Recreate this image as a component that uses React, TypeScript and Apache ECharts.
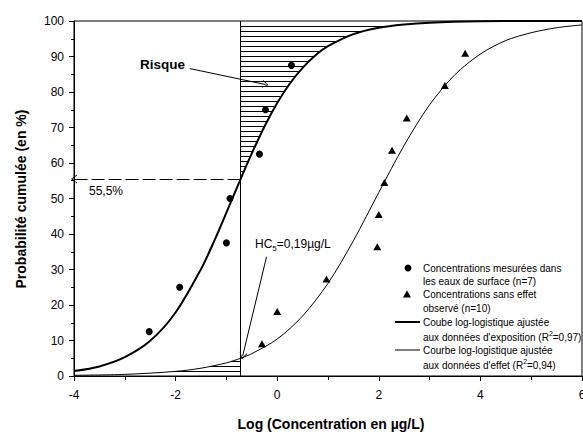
import React, { useEffect, useRef } from "react";
import * as echarts from "echarts";

// ---- data ----
const xTickLabels = ["-4", "-2", "0", "2", "4", "6"];
const exposureX = [-4, -3.5, -3, -2.5, -2, -1.5, -1.25, -1, -0.75, -0.5, -0.25, 0, 0.25, 0.5, 0.75, 1, 1.5, 2, 2.5, 3, 4, 5, 6];
const exposureY = [1.4, 2.7, 5.3, 9.9, 17.9, 30.1, 37.7, 46.0, 54.5, 62.7, 70.3, 76.9, 82.4, 86.8, 90.3, 92.9, 96.3, 98.1, 99.0, 99.5, 99.9, 100, 100];
const effectX = [-4, -3, -2, -1.5, -1, -0.72, -0.5, 0, 0.5, 1, 1.5, 2, 2.5, 3, 3.5, 4, 4.5, 5, 5.5, 6];
const effectY = [0.2, 0.45, 1.3, 2.2, 3.7, 5.0, 6.3, 10.4, 16.9, 26.1, 38.1, 51.7, 65.0, 76.4, 84.9, 90.7, 94.5, 96.7, 98.1, 98.9];
const measuredX = [-2.52, -1.92, -1.0, -0.93, -0.35, -0.23, 0.28];
const measuredY = [12.5, 25, 37.5, 50, 62.5, 75, 87.5];
const noEffectX = [-0.3, 0.0, 0.97, 1.97, 2.0, 2.11, 2.26, 2.55, 3.3, 3.7];
const noEffectY = [9.1, 18.2, 27.3, 36.4, 45.5, 54.5, 63.6, 72.7, 81.8, 90.9];
const hc5Log = -0.72;
const riskLevel = 55.5;
const hc5EffectLevel = 5.0;
const hatchLines = 71;
const riskArrow = [[-1.72, 86.6], [-0.23, 82.1]];
const hc5Arrow = [[-0.21, 33.6], [-0.68, 5.6]];

const FONT = '"Liberation Sans", Arial, Helvetica, sans-serif';
const ARROW = "path://M50,0 L100,100 L88,100 L50,22 L12,100 L0,100 Z";

function crossX(pts: number[][], py: number): number | null {
  for (let i = 0; i < pts.length - 1; i++) {
    const a = pts[i];
    const b = pts[i + 1];
    if ((a[1] - py) * (b[1] - py) <= 0 && a[1] !== b[1]) {
      return a[0] + ((py - a[1]) * (b[0] - a[0])) / (b[1] - a[1]);
    }
  }
  return null;
}

export default function App() {
  const ref = useRef<HTMLDivElement>(null);
  useEffect(() => {
    const chart = echarts.init(ref.current!, null, { renderer: "svg" });

    const hatchRender = (params: any, api: any) => {
      const expPx = exposureX.map((x, i) => api.coord([x, exposureY[i]]));
      const effPx = effectX.map((x, i) => api.coord([x, effectY[i]]));
      const children: any[] = [];
      const vx = api.coord([hc5Log, 0])[0];
      for (let k = 1; k < hatchLines; k++) {
        const level = (k * 100) / hatchLines;
        const py = Math.floor(api.coord([0, level])[1]) + 0.5;
        if (level > riskLevel) {
          const x1 = crossX(expPx, py);
          if (x1 !== null && x1 > vx) {
            children.push({ type: "line", shape: { x1: vx, y1: py, x2: x1, y2: py }, style: { stroke: "#000", lineWidth: 1 } });
          }
        }
        if (level < hc5EffectLevel) {
          const x0 = crossX(effPx, py);
          if (x0 !== null && x0 < vx) {
            children.push({ type: "line", shape: { x1: x0, y1: py, x2: vx, y2: py }, style: { stroke: "#000", lineWidth: 1 } });
          }
        }
      }
      return { type: "group", children };
    };

    const txt = (text: string, x: number, y: number, extra: any = {}) => ({
      type: "text",
      x,
      y,
      silent: true,
      style: {
        text,
        fill: "#000",
        fontFamily: FONT,
        fontSize: 10,
        align: "left",
        verticalAlign: "middle",
        textAlign: "left",
        textVerticalAlign: "middle",
        ...extra,
      },
    });

    const supRich = {
      t: { fontSize: 10, fontFamily: FONT, color: "#000", lineHeight: 14 },
      s: { fontSize: 7, fontFamily: FONT, color: "#000", verticalAlign: "top", lineHeight: 8 },
    };

    const option: any = {
      animation: false,
      backgroundColor: "#fff",
      grid: { left: 74, right: 1, top: 21, bottom: 56, show: true, borderColor: "#000", borderWidth: 1, containLabel: false, outerBoundsMode: "none" },
      xAxis: {
        type: "value",
        min: -4,
        max: 6,
        interval: 2,
        axisLine: { show: true, onZero: false, lineStyle: { color: "#000", width: 1 } },
        axisTick: { show: true, length: 5, lineStyle: { color: "#000" } },
        minorTick: { show: true, splitNumber: 2, length: 4, lineStyle: { color: "#000" } },
        splitLine: { show: false },
        axisLabel: {
          color: "#000",
          fontSize: 12,
          fontFamily: FONT,
          margin: 13,
          formatter: (v: number) => xTickLabels[Math.round((v + 4) / 2)] ?? String(v),
        },
      },
      yAxis: {
        type: "value",
        min: 0,
        max: 100,
        interval: 10,
        axisLine: { show: true, onZero: false, lineStyle: { color: "#000", width: 1 } },
        axisTick: { show: true, length: 5, lineStyle: { color: "#000" } },
        minorTick: { show: true, splitNumber: 2, length: 3, lineStyle: { color: "#000" } },
        splitLine: { show: false },
        axisLabel: { color: "#000", fontSize: 12, fontFamily: FONT, margin: 10 },
      },
      series: [
        {
          type: "custom",
          coordinateSystem: "cartesian2d",
          renderItem: hatchRender,
          data: [[0, 0]],
          silent: true,
          z: 1,
        },
        {
          name: "exposure",
          type: "line",
          data: exposureX.map((x, i) => [x, exposureY[i]]),
          smooth: 0.3,
          showSymbol: false,
          lineStyle: { color: "#000", width: 2 },
          silent: true,
          z: 3,
          markLine: {
            silent: true,
            symbol: ["none", "none"],
            label: { show: false },
            lineStyle: { color: "#000", width: 1, type: "solid" },
            data: [
              { xAxis: hc5Log },
              [
                { coord: [hc5Log, riskLevel], symbol: "none", lineStyle: { type: [13, 4], color: "#000", width: 1 } },
                { coord: [-4, riskLevel], symbol: ARROW, symbolSize: [9, 6] },
              ],
              [
                { coord: riskArrow[0], symbol: "none" },
                { coord: riskArrow[1], symbol: ARROW, symbolSize: [8, 6] },
              ],
              [
                { coord: hc5Arrow[0], symbol: "none" },
                { coord: hc5Arrow[1], symbol: ARROW, symbolSize: [8, 7] },
              ],
            ],
          },
        },
        {
          name: "effect",
          type: "line",
          data: effectX.map((x, i) => [x, effectY[i]]),
          smooth: 0.3,
          showSymbol: false,
          lineStyle: { color: "#000", width: 1 },
          silent: true,
          z: 3,
        },
        {
          name: "measured",
          type: "scatter",
          data: measuredX.map((x, i) => [x, measuredY[i]]),
          symbol: "circle",
          symbolSize: 7,
          itemStyle: { color: "#000", opacity: 1 },
          z: 4,
        },
        {
          name: "noeffect",
          type: "scatter",
          data: noEffectX.map((x, i) => [x, noEffectY[i]]),
          symbol: "triangle",
          symbolSize: [8, 7],
          itemStyle: { color: "#000", opacity: 1 },
          z: 4,
        },
      ],
      graphic: [
        txt("Log (Concentration en µg/L)", 331, 424, { fontSize: 14, fontWeight: "bold", align: "center", textAlign: "center" }),
        {
          type: "text",
          x: 21,
          y: 199,
          rotation: Math.PI / 2,
          silent: true,
          style: {
            text: "Probabilité cumulée (en %)",
            fill: "#000",
            fontFamily: FONT,
            fontSize: 14,
            fontWeight: "bold",
            align: "center",
            verticalAlign: "middle",
            textAlign: "center",
            textVerticalAlign: "middle",
          },
        },
        txt("Risque", 140, 64, { fontSize: 13.5, fontWeight: "bold" }),
        txt("55,5%", 89, 191, { fontSize: 12 }),
        txt("{a|HC}{b|5}{a|=0,19µg/L}", 255, 244, {
          rich: {
            a: { fontSize: 12, fontFamily: FONT, color: "#000", lineHeight: 16 },
            b: { fontSize: 8, fontFamily: FONT, color: "#000", verticalAlign: "bottom", lineHeight: 10 },
          },
        }),
        // legend
        { type: "circle", silent: true, shape: { cx: 408, cy: 268, r: 3.5 }, style: { fill: "#000" } },
        { type: "polygon", silent: true, shape: { points: [[407, 290.5], [403, 297.5], [411, 297.5]] }, style: { fill: "#000" } },
        { type: "line", silent: true, shape: { x1: 395, y1: 322, x2: 420, y2: 322 }, style: { stroke: "#000", lineWidth: 2 } },
        { type: "line", silent: true, shape: { x1: 395, y1: 350, x2: 420, y2: 350 }, style: { stroke: "#000", lineWidth: 1 } },
        txt("Concentrations mesurées dans", 423, 268),
        txt("les eaux de surface (n=7)", 423, 281),
        txt("Concentrations sans effet", 423, 294.5),
        txt("observé (n=10)", 423, 308.5),
        txt("Coube log-logistique ajustée", 423, 322),
        txt("{t|aux données d'exposition (R}{s|2}{t|=0,97)}", 423, 337, { rich: supRich }),
        txt("Courbe log-logistique ajustée", 423, 350),
        txt("{t|aux données d'effet (R}{s|2}{t|=0,94)}", 423, 365, { rich: supRich }),
      ],
    };

    chart.setOption(option);
    return () => chart.dispose();
  }, []);

  return (
    <div
      ref={ref}
      style={{ position: "fixed", left: 0, top: 0, width: 583, height: 432, background: "#fff" }}
    />
  );
}
